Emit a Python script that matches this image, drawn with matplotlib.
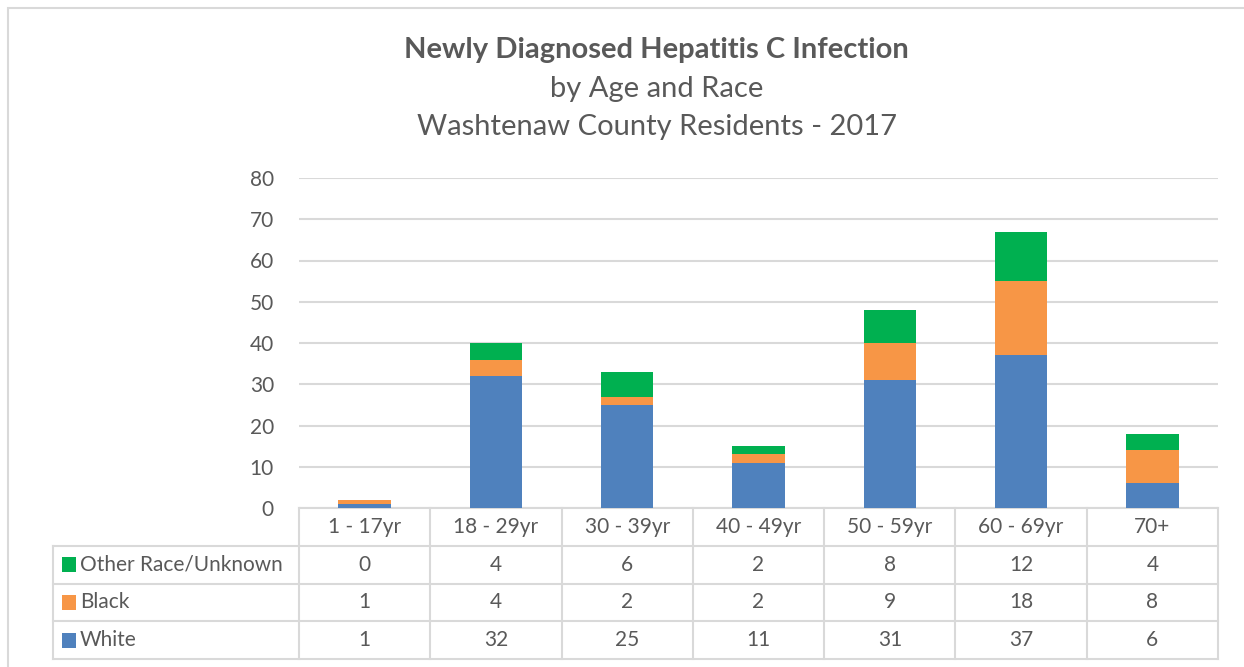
import matplotlib.pyplot as plt
import matplotlib.patches as mpatches
import numpy as np

plt.rcParams['font.family'] = ['Lato', 'DejaVu Sans']

# Data
ages = ['1 - 17yr', '18 - 29yr', '30 - 39yr', '40 - 49yr', '50 - 59yr', '60 - 69yr', '70+']
white = [1, 32, 25, 11, 31, 37, 6]
black = [1, 4, 2, 2, 9, 18, 8]
other = [0, 4, 6, 2, 8, 12, 4]

series = ['Other Race/Unknown', 'Black', 'White']
colors = {'White': '#4F81BD', 'Black': '#F79646', 'Other Race/Unknown': '#00B050'}
values = {'White': white, 'Black': black, 'Other Race/Unknown': other}

text_c = '#595959'
line_c = '#D9D9D9'
fs = 15

W, H = 1244, 667
fig = plt.figure(figsize=(W / 100, H / 100), dpi=100)

# outer chart border
fig.patches.append(mpatches.Rectangle((8 / W, -0.1), 1.2, 1 - 8 / H + 0.1,
                                      transform=fig.transFigure, fill=False,
                                      edgecolor=line_c, linewidth=1.5))

# title
fig.text(0.528, 1 - 50 / H, 'Newly Diagnosed Hepatitis C Infection', ha='center', va='center',
         fontsize=21, fontweight='bold', color=text_c)
fig.text(0.528, 1 - 89 / H, 'by Age and Race', ha='center', va='center', fontsize=21, color=text_c)
fig.text(0.528, 1 - 127 / H, 'Washtenaw County Residents - 2017', ha='center', va='center',
         fontsize=21, color=text_c)

# main axes
left, right = 299 / W, 1218 / W
ax = fig.add_axes([left, 1 - 508 / H, right - left, (508 - 178) / H])
x = np.arange(len(ages))
bottom = np.zeros(len(ages))
for name in ['White', 'Black', 'Other Race/Unknown']:
    ax.bar(x, values[name], width=0.4, bottom=bottom, color=colors[name], zorder=3)
    bottom += np.array(values[name])

ax.set_xlim(-0.5, len(ages) - 0.5)
ax.set_ylim(0, 80)
ax.set_yticks(range(0, 81, 10))
ax.yaxis.grid(True, color=line_c, linewidth=1.5, zorder=0)
ax.tick_params(axis='y', length=0, labelsize=fs, labelcolor=text_c, pad=18)
ax.set_xticks([])
for s in ['top', 'right', 'left']:
    ax.spines[s].set_visible(False)
ax.spines['bottom'].set_color(line_c)
ax.spines['bottom'].set_linewidth(1.5)

# data table axes, same x scale as the bars
tab = fig.add_axes([left, 1 - 659 / H, right - left, (659 - 508) / H], sharex=ax)
tab.set_ylim(4, 0)
tab.axis('off')
col_w = (1218 - 299) / len(ages)
label_left = -0.5 - (299 - 53) / col_w

kw = dict(color=line_c, linewidth=1.5, clip_on=False)
# vertical lines
for b in np.arange(-0.5, len(ages), 1.0):
    tab.plot([b, b], [0, 4], **kw)
tab.plot([label_left, label_left], [1, 4], **kw)
# horizontal lines
for r in [1, 2, 3, 4]:
    tab.plot([label_left, len(ages) - 0.5], [r, r], **kw)

for i, a in enumerate(ages):
    tab.text(i, 0.5, a, ha='center', va='center', fontsize=fs, color=text_c)

for r, name in enumerate(series, start=1):
    tab.add_patch(mpatches.Rectangle((label_left + 9 / col_w, r + 0.3), 14 / col_w, 0.4,
                                     facecolor=colors[name], edgecolor='none', clip_on=False))
    tab.text(label_left + 27 / col_w, r + 0.5, name, ha='left', va='center',
             fontsize=fs, color=text_c, clip_on=False)
    for i, v in enumerate(values[name]):
        tab.text(i, r + 0.5, str(v), ha='center', va='center', fontsize=fs, color=text_c)

fig.savefig('out.png', dpi=100)
